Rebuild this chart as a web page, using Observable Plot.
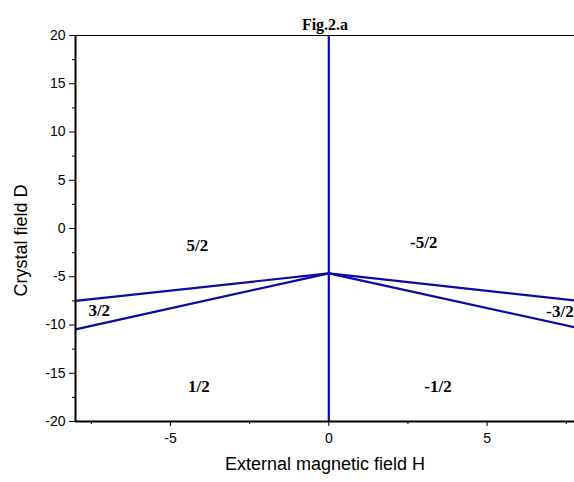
<!DOCTYPE html>
<html><head><meta charset="utf-8">
<script src="https://cdn.jsdelivr.net/npm/d3@7"></script>
<script src="https://cdn.jsdelivr.net/npm/@observablehq/plot@0.6"></script>
<style>body{margin:0;background:#fff}</style>
</head><body><div id="chart"></div>
<script>
// Data
const H = [-8, 0, 8];
const upperD = [-7.5, -4.65, -7.55];
const lowerD = [-10.45, -4.65, -10.4];
const xTicks = [-5, 0, 5];
const xMinor = [-7.5, -2.5, 2.5, 7.5];
const yTicks = [-20, -15, -10, -5, 0, 5, 10, 15, 20];
const yMinor = [-17.5, -12.5, -7.5, -2.5, 2.5, 7.5, 12.5, 17.5];
const regionLabels = ["5/2", "-5/2", "3/2", "-3/2", "1/2", "-1/2"];
const regionH = [-4.15, 3.0, -7.25, 7.3, -4.1, 3.45];
const regionD = [-1.8, -1.5, -8.5, -8.6, -16.4, -16.4];

const upper = H.map((h, i) => ({H: h, D: upperD[i]}));
const lower = H.map((h, i) => ({H: h, D: lowerD[i]}));
const regions = regionLabels.map((t, i) => ({t, H: regionH[i], D: regionD[i]}));
const blue = "#0a0aa5";

const chart = Plot.plot({
  width: 574, height: 482,
  marginLeft: 75, marginRight: 0, marginTop: 35, marginBottom: 61,
  style: {fontFamily: "'Liberation Sans', Arial, sans-serif", fontSize: "14px", background: "#fff"},
  x: {domain: [-8, 7.76]},
  y: {domain: [-20, 20]},
  marks: [
    Plot.axisX({ticks: xTicks, tickSize: 5, tickPadding: 7, tickFormat: d => String(d), label: null, fontSize: 14}),
    Plot.axisX({ticks: xMinor, tickSize: 3, tickFormat: () => "", label: null}),
    Plot.axisY({ticks: yTicks, tickSize: 6, tickPadding: 4, tickFormat: d => String(d), label: null, fontSize: 14}),
    Plot.axisY({ticks: yMinor, tickSize: 3, tickFormat: () => "", label: null}),
    Plot.ruleX([0], {y1: -20, y2: 20, stroke: blue, strokeWidth: 2.2}),
    Plot.line(upper, {x: "H", y: "D", stroke: blue, strokeWidth: 2.2, clip: true}),
    Plot.line(lower, {x: "H", y: "D", stroke: blue, strokeWidth: 2.2, clip: true}),
    Plot.ruleY([20], {stroke: "black", strokeWidth: 1.2}),
    Plot.ruleY([-20], {stroke: "black", strokeWidth: 2}),
    Plot.ruleX([-8], {stroke: "black", strokeWidth: 2}),
    Plot.text(regions, {x: "H", y: "D", text: "t", fontFamily: "'Liberation Serif', 'Times New Roman', serif", fontWeight: "bold", fontSize: 17, fill: "black"}),
    Plot.text(["Fig.2.a"], {frameAnchor: "top", dy: -17, fontFamily: "'Liberation Serif', 'Times New Roman', serif", fontWeight: "bold", fontSize: 16, fill: "black"}),
    Plot.text(["External magnetic field H"], {frameAnchor: "bottom", dy: 48, fontSize: 18, fill: "black"}),
    Plot.text(["Crystal field D"], {frameAnchor: "left", dx: -54, dy: 12, rotate: -90, textAnchor: "middle", fontSize: 18, fill: "black"})
  ]
});
document.getElementById("chart").appendChild(chart);
</script></body></html>
